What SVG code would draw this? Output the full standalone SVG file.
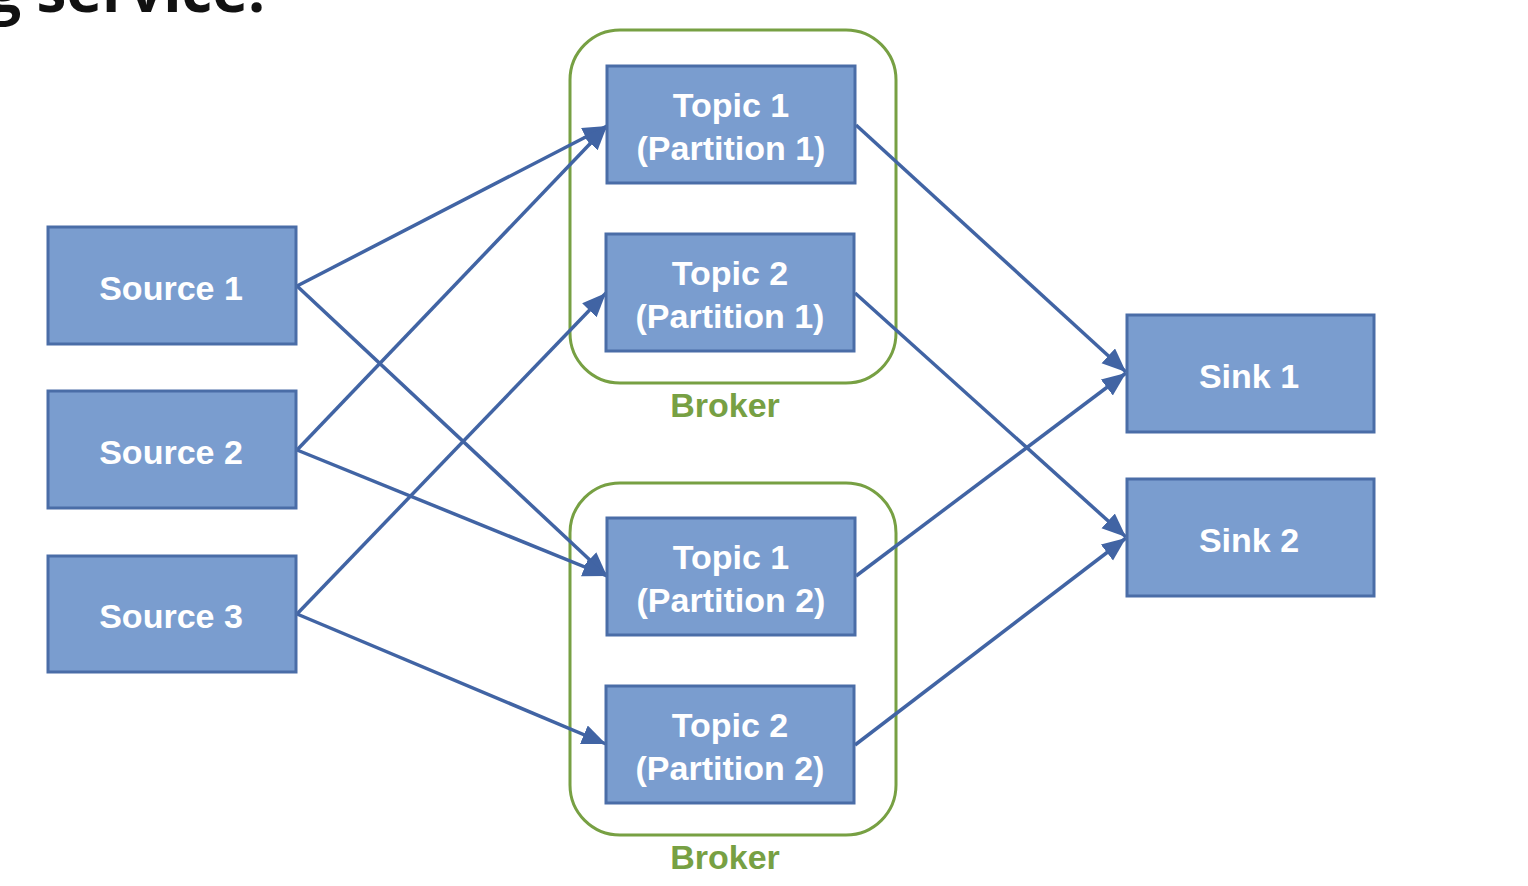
<svg xmlns="http://www.w3.org/2000/svg" width="1528" height="886" viewBox="0 0 1528 886">
<style>
.box{fill:#7A9DCF;stroke:#4A6DA7;stroke-width:3}
.lbl{font-family:"Liberation Sans",Arial,sans-serif;font-weight:bold;font-size:34px;fill:#FFFFFF;text-anchor:middle}
.broker{fill:none;stroke:#77A043;stroke-width:3}
.blbl{font-family:"Liberation Sans",Arial,sans-serif;font-weight:bold;font-size:34px;fill:#77A043;text-anchor:middle}
.edge{stroke:#4164A4;stroke-width:3.5;fill:none;marker-end:url(#arr)}
.title{font-family:"Open Sans","DejaVu Sans",sans-serif;font-weight:bold;font-size:60px;fill:#111111;text-anchor:end}
</style>
<defs>
<marker id="arr" markerUnits="userSpaceOnUse" markerWidth="26" markerHeight="22" refX="24" refY="10" orient="auto">
<path d="M0,0 L24,10 L0,20 Z" fill="#4164A4"/>
</marker>
</defs>
<rect width="1528" height="886" fill="#FFFFFF"/>
<text class="title" x="265" y="12">g service.</text>
<g id="broker1">
<rect class="broker" x="570" y="30" width="326" height="353" rx="50"/>
<text class="blbl" x="725" y="417">Broker</text>
</g>
<g id="broker2">
<rect class="broker" x="570" y="483" width="326" height="352" rx="50"/>
<text class="blbl" x="725" y="869">Broker</text>
</g>
<g id="connectors">
<line class="edge" x1="297" y1="286" x2="607" y2="126"/>
<line class="edge" x1="297" y1="286" x2="607" y2="576"/>
<line class="edge" x1="297" y1="450" x2="607" y2="126"/>
<line class="edge" x1="297" y1="450" x2="607" y2="576"/>
<line class="edge" x1="297" y1="614" x2="606" y2="293"/>
<line class="edge" x1="297" y1="614" x2="606" y2="744"/>
<line class="edge" x1="856" y1="125" x2="1126" y2="372"/>
<line class="edge" x1="856" y1="576" x2="1126" y2="373"/>
<line class="edge" x1="855" y1="293" x2="1126" y2="537"/>
<line class="edge" x1="855" y1="745" x2="1126" y2="538"/>
</g>
<g id="source1">
<rect class="box" x="48" y="227" width="248" height="117"/>
<text class="lbl" x="171" y="300">Source 1</text>
</g>
<g id="source2">
<rect class="box" x="48" y="391" width="248" height="117"/>
<text class="lbl" x="171" y="464">Source 2</text>
</g>
<g id="source3">
<rect class="box" x="48" y="556" width="248" height="116"/>
<text class="lbl" x="171" y="628">Source 3</text>
</g>
<g id="topic1p1">
<rect class="box" x="607" y="66" width="248" height="117"/>
<text class="lbl" x="731" y="117">Topic 1</text>
<text class="lbl" x="731" y="160">(Partition 1)</text>
</g>
<g id="topic2p1">
<rect class="box" x="606" y="234" width="248" height="117"/>
<text class="lbl" x="730" y="285">Topic 2</text>
<text class="lbl" x="730" y="328">(Partition 1)</text>
</g>
<g id="topic1p2">
<rect class="box" x="607" y="518" width="248" height="117"/>
<text class="lbl" x="731" y="569">Topic 1</text>
<text class="lbl" x="731" y="612">(Partition 2)</text>
</g>
<g id="topic2p2">
<rect class="box" x="606" y="686" width="248" height="117"/>
<text class="lbl" x="730" y="737">Topic 2</text>
<text class="lbl" x="730" y="780">(Partition 2)</text>
</g>
<g id="sink1">
<rect class="box" x="1127" y="315" width="247" height="117"/>
<text class="lbl" x="1249" y="388">Sink 1</text>
</g>
<g id="sink2">
<rect class="box" x="1127" y="479" width="247" height="117"/>
<text class="lbl" x="1249" y="552">Sink 2</text>
</g>
</svg>
